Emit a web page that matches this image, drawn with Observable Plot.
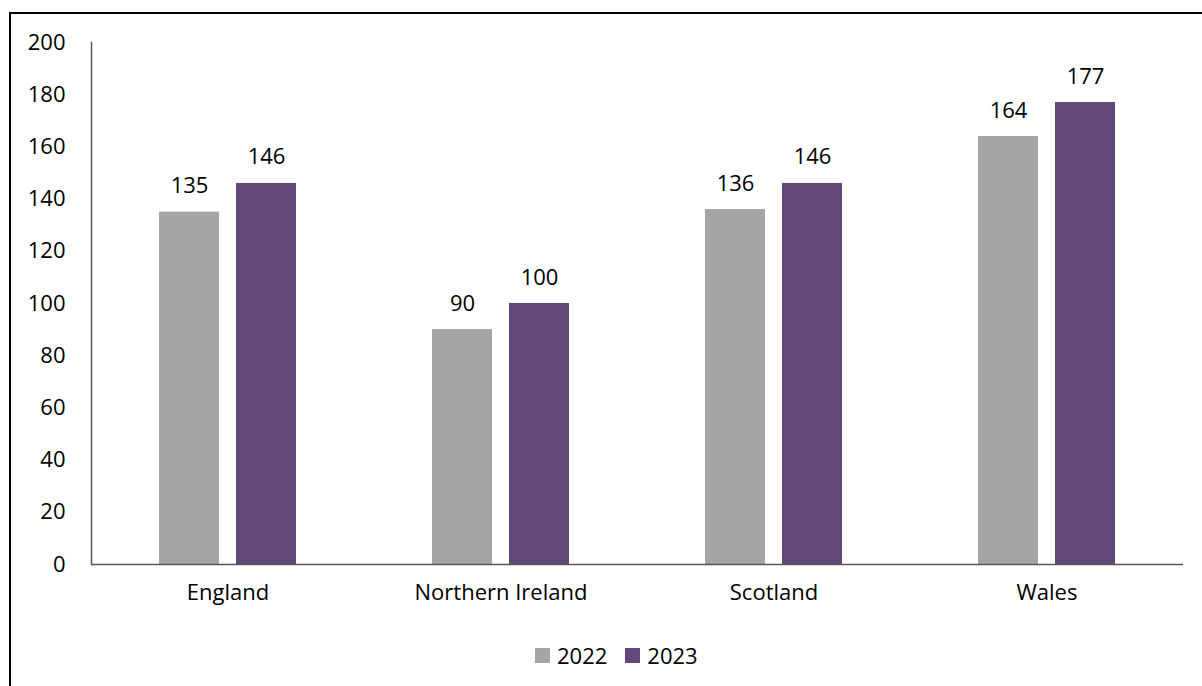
<!DOCTYPE html>
<html>
<head>
<meta charset="utf-8">
<script src="https://cdn.jsdelivr.net/npm/d3@7"></script>
<script src="https://cdn.jsdelivr.net/npm/@observablehq/plot@0.6"></script>
<style>
  html, body { margin: 0; padding: 0; background: #fff; overflow: hidden; width: 1202px; height: 686px; }
  #wrap { position: relative; width: 1202px; height: 686px; font-family: "Open Sans", "Noto Sans", sans-serif; }
  #frame { position: absolute; left: 9px; top: 12px; width: 1400px; height: 900px; border: 2px solid #000; box-sizing: border-box; pointer-events: none; }
  #chart { position: absolute; left: 0; top: 0; }
  #legend { position: absolute; left: 535px; top: 640px; display: flex; align-items: center; font-size: 22px; color: #000; }
  .sw { display: inline-block; width: 15px; height: 15px; margin-right: 7px; }
  .item { display: flex; align-items: center; margin-right: 18px; }
</style>
</head>
<body>
<div id="wrap">
  <div id="frame"></div>
  <div id="chart"></div>
  <div id="legend"></div>
</div>
<script>
const countries = ["England", "Northern Ireland", "Scotland", "Wales"];
const years = ["2022", "2023"];
const values2022 = [135, 90, 136, 164];
const values2023 = [146, 100, 146, 177];
const yTicks = [0, 20, 40, 60, 80, 100, 120, 140, 160, 180, 200];
const colors = ["#a5a5a5", "#604878"];

const data = countries.flatMap((c, i) => [
  {country: c, year: years[0], value: values2022[i]},
  {country: c, year: years[1], value: values2023[i]}
]);

const chart = Plot.plot({
  width: 1202,
  height: 620,
  marginTop: 42,
  marginBottom: 56,
  marginLeft: 90,
  marginRight: 18,
  style: {fontFamily: "'Open Sans', 'Noto Sans', sans-serif", fontSize: "22px", color: "#000", background: "transparent"},
  fx: {domain: countries, padding: 0, label: null, axis: null},
  x: {domain: years, axis: null, paddingInner: 0.215, paddingOuter: 0.875},
  y: {domain: [0, 200], axis: null},
  color: {domain: years, range: colors},
  marks: [
    Plot.barY(data, {fx: "country", x: "year", y: "value", fill: "year"}),
    Plot.text(data, {fx: "country", x: "year", y: "value", text: d => String(d.value), dy: -26, fill: "#000"}),
    Plot.ruleY([0], {stroke: "#595959", strokeWidth: 1.5}),
    Plot.frame({anchor: "left", facetAnchor: "left", stroke: "#595959", strokeWidth: 1.5}),
    Plot.axisY({ticks: yTicks, tickSize: 0, tickPadding: 26, label: null, fill: "#000", fontSize: 22}),
    Plot.axisFx({anchor: "bottom", tickSize: 0, tickPadding: 20, label: null, fill: "#000", fontSize: 22})
  ]
});
document.getElementById("chart").appendChild(chart);

const legend = document.getElementById("legend");
years.forEach((y, i) => {
  const item = document.createElement("div");
  item.className = "item";
  const sw = document.createElement("span");
  sw.className = "sw";
  sw.style.background = colors[i];
  const t = document.createElement("span");
  t.textContent = y;
  item.appendChild(sw);
  item.appendChild(t);
  legend.appendChild(item);
});
</script>
</body>
</html>
